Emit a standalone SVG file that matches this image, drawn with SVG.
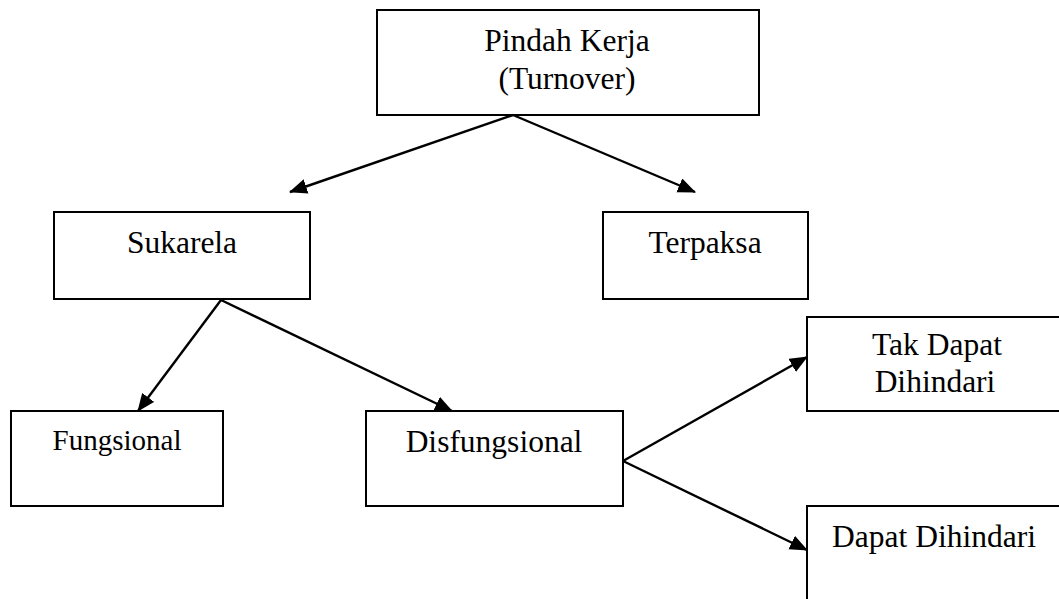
<svg xmlns="http://www.w3.org/2000/svg" width="1059" height="599" viewBox="0 0 1059 599">
<style>
.box{fill:#fff;stroke:#000;stroke-width:2}
.t{font-family:"Liberation Serif","Times New Roman",serif;font-size:31.5px;fill:#000;text-anchor:middle}
.c{stroke:#000;stroke-width:2.4;fill:none;marker-end:url(#ah)}
</style>
<defs>
<marker id="ah" markerUnits="userSpaceOnUse" markerWidth="18" markerHeight="16" refX="17" refY="7.5" orient="auto">
<path d="M0,0 L18,7.5 L0,15 Z" fill="#000"/>
</marker>
</defs>
<rect width="1059" height="599" fill="#fff"/>
<g id="n-pindah"><rect class="box" x="377" y="10" width="382" height="105"/><text class="t" x="567" y="51">Pindah Kerja</text><text class="t" x="567" y="89">(Turnover)</text></g>
<g id="n-sukarela"><rect class="box" x="54" y="212" width="256" height="87"/><text class="t" x="182" y="253">Sukarela</text></g>
<g id="n-terpaksa"><rect class="box" x="603" y="212" width="205" height="87"/><text class="t" x="705" y="253">Terpaksa</text></g>
<g id="n-fungsional"><rect class="box" x="11" y="411" width="212" height="95"/><text class="t" x="117" y="450" style="font-size:29px">Fungsional</text></g>
<g id="n-disfungsional"><rect class="box" x="366" y="411" width="257" height="95"/><text class="t" x="494" y="452">Disfungsional</text></g>
<g id="n-takdapat"><rect class="box" x="807" y="317" width="270" height="94"/><text class="t" x="937" y="355">Tak Dapat</text><text class="t" x="935" y="392">Dihindari</text></g>
<g id="n-dapat"><rect class="box" x="807" y="506" width="270" height="110"/><text class="t" x="934" y="547">Dapat Dihindari</text></g>
<g id="connectors">
<line class="c" x1="513" y1="115" x2="290" y2="192"/>
<line class="c" x1="513" y1="115" x2="695" y2="192"/>
<line class="c" x1="221" y1="300" x2="138" y2="411"/>
<line class="c" x1="221" y1="300" x2="452" y2="411"/>
<line class="c" x1="623" y1="461" x2="807" y2="357"/>
<line class="c" x1="623" y1="461" x2="807" y2="550"/>
</g>
</svg>
